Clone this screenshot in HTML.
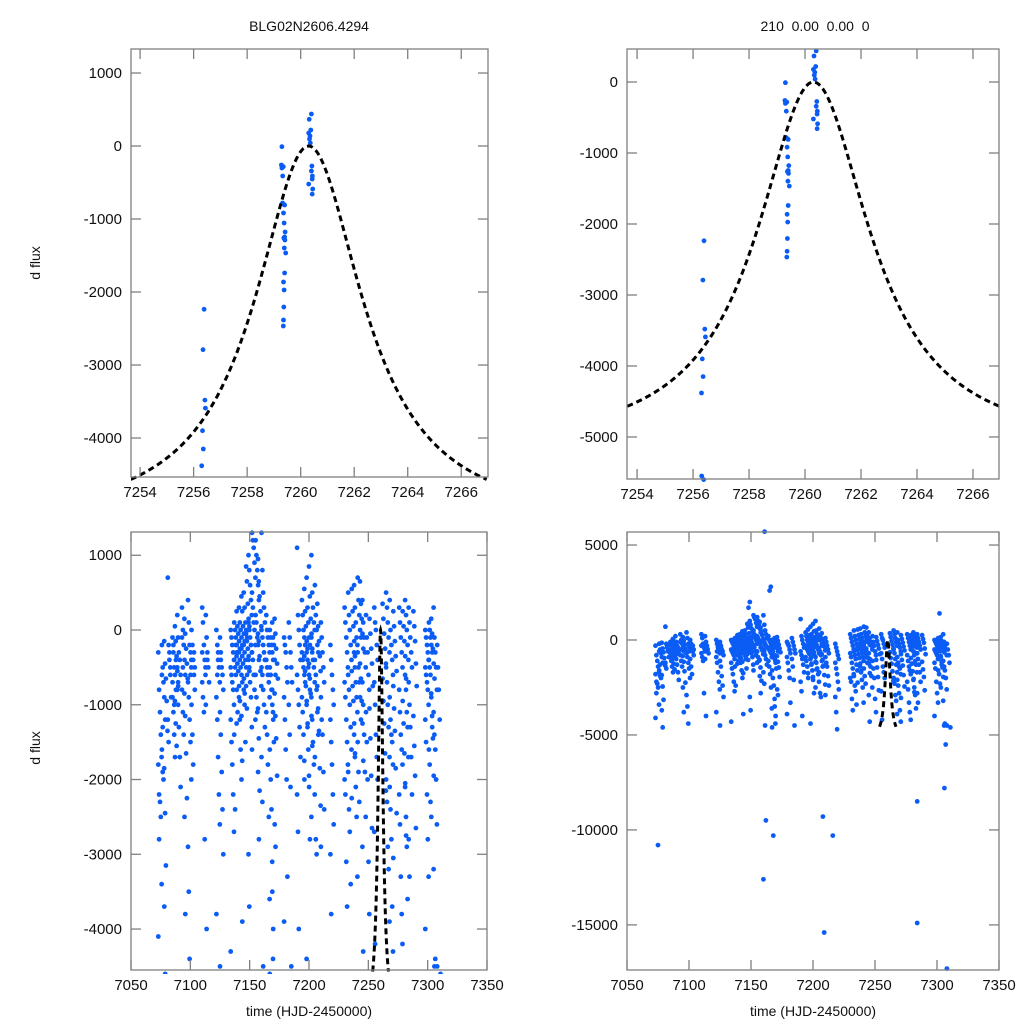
<!DOCTYPE html>
<html><head><meta charset="utf-8"><style>
html,body{margin:0;padding:0;background:#fff;width:1024px;height:1024px;overflow:hidden;}
svg{display:block;font-family:"Liberation Sans",sans-serif;}
</style></head><body>
<svg id="chart" width="1024" height="1024" viewBox="0 0 1024 1024" xmlns="http://www.w3.org/2000/svg">
<text x="309" y="31" font-size="14" text-anchor="middle" fill="#111">BLG02N2606.4294</text>
<text x="815" y="31" font-size="14" text-anchor="middle" fill="#111" xml:space="preserve">210  0.00  0.00  0</text>
<text transform="translate(40,263) rotate(-90)" font-size="14" text-anchor="middle" fill="#111">d flux</text>
<text transform="translate(40,748) rotate(-90)" font-size="14" text-anchor="middle" fill="#111">d flux</text>
<text x="309" y="1016" font-size="14" text-anchor="middle" fill="#111">time (HJD-2450000)</text>
<text x="813" y="1016" font-size="14" text-anchor="middle" fill="#111">time (HJD-2450000)</text>
</svg>
<script>
// ---- zoomed data (top panels) ----
const zoomTimes = [7256.39,7256.35,7256.42,7256.44,7256.33,7256.36,7256.30,7256.31,7256.38,
 7259.30,7259.28,7259.35,7259.30,7259.33,7259.32,7259.40,7259.36,7259.38,7259.42,7259.40,7259.37,7259.41,7259.39,7259.44,7259.40,7259.36,7259.38,7259.37,7259.36,7259.35,7259.37,
 7260.40,7260.32,7260.38,7260.30,7260.35,7260.33,7260.36,7260.42,7260.40,7260.44,7260.43,7260.30,7260.45,7260.43];
const zoomFlux = [-2237,-2790,-3480,-3590,-3900,-4150,-4380,-5550,-5600,
 -10,-260,-283,-301,-411,-781,-808,-918,-1055,-1178,-1247,-1260,-1288,-1397,-1466,-1740,-1863,-1973,-2205,-2384,-2466,-800,
 438,366,219,178,137,96,41,-274,-342,-411,-452,-521,-589,-658];
// ---- model parameters (fit curve) ----
const modelT0 = [7260.3];
const modelWidth = [2.45];
const modelDepth = [5188];
const modelRange = [7253.65, 7266.95];
// ---- full season (bottom panels), flux in hundreds per night ----
const nightTimes = [7073,7076,7081,7085,7089,7093,7098,7101,7110,7113,7122,7125,7134,7137,7141,7145,7149,7152,7155,7160,7164,7167,7169,7179,7183,7190,7194,7198,7202,7205,7210,7218,7230,7233,7238,7241,7245,7248,7255,7265,7268,7276,7281,7284,7298,7301,7305,7308,
 7078,7087,7095,7139,7143,7147,7157,7171,7196,7200,7207,7236,7243,7251,7262,7271,7279,7288,7303];
const nightFluxHundreds = [
[-3,-8,-11,-14,-17,-18,-22,-23,-25,-34,-41,-28],
[-2,-5,-7,-9,-12,-16,-19,-20,-37,-46,-6,-13],
[7,-2,-4,-6,-9,-12,-15,-3,-5],
[-1,-3,-5,-6,-8,-9,-11,-14,-17,-4,-7,-2,-10],
[2,-1,-3,-4,-6,-8,-10,-13,-17,-21,-5,-7],
[3,0,-2,-4,-6,-8,-11,-14,-25,-38,-1,-5],
[4,1,-2,-3,-5,-7,-9,-12,-15,-20,-29,-35,-44,-6,-4],
[0,-2,-4,-6,-8,-10,-14,-18,-3,-5],
[3,1,-2,-4,-5,-7,-9,-11,-28,-6,-3],
[2,-1,-3,-5,-7,-10,-40,-4],
[0,-2,-4,-5,-7,-9,-12,-17,-22,-26,-38,-6,-3],
[-1,-3,-5,-6,-8,-11,-14,-19,-24,-30,-45,-4],
[0,-1,-2,-3,-4,-5,-6,-7,-8,-10,-12,-15,-18,-22,-27,-43],
[1,0,-1,-2,-3,-4,-5,-6,-8,-11,-14,-24,-2,-3],
[3,1,0,-1,-2,-3,-4,-5,-6,-7,-9,-12,-16,-20,-39],
[5,3,1,0,-1,-2,-3,-4,-5,-6,-8,-10,-15],
[10,8,6,4,2,1,0,-1,-2,-3,-4,-5,-7,-9,-13,-30,-37],
[13,12,11,9,7,5,3,1,0,-2,-3,-4,-6,-8,-12,-16],
[12,10,8,6,4,2,1,-1,-2,-4,-6,-9,-11,-19,-28],
[13,8,5,3,1,0,-1,-2,-3,-4,-5,-6,-8,-10,-13,-17,-23,-45],
[2,0,-1,-2,-3,-4,-5,-6,-7,-9,-11,-14,-18,-25,-36],
[0,-1,-2,-3,-4,-5,-6,-8,-10,-12,-16,-20,-24,-35,-40,-46],
[1,-1,-2,-4,-6,-8,-11,-15,-26,-29,-31,-44],
[-1,-2,-3,-5,-7,-9,-12,-16,-20,-33,-39],
[1,-1,-3,-5,-7,-10,-14,-21,-45],
[11,2,0,-2,-4,-6,-8,-10,-13,-17,-22,-27,-40],
[4,2,0,-1,-2,-3,-4,-5,-6,-7,-9,-11,-14,-20],
[7,3,1,-1,-2,-3,-4,-5,-6,-8,-10,-13,-16,-21,-28,-44],
[10,5,3,1,0,-1,-3,-4,-5,-7,-9,-12,-15,-18,-22,-25],
[6,2,0,-2,-3,-4,-6,-8,-11,-14,-17,-28,-30],
[1,-1,-3,-5,-7,-9,-12,-14,-19,-24,-29],
[-2,-4,-6,-8,-10,-12,-15,-18,-22,-26,-30,-38,-47],
[3,1,-1,-3,-5,-7,-9,-12,-15,-18,-20,-22,-31,-37],
[5,2,0,-2,-4,-6,-8,-10,-13,-16,-19,-24,-27,-34],
[6,3,1,-1,-2,-3,-5,-7,-9,-11,-14,-17,-21,-25,-33],
[7,4,2,0,-1,-3,-5,-7,-9,-12,-15,-19,-23],
[4,1,-1,-3,-5,-7,-10,-14,-19,-25,-29,-43],
[2,-1,-3,-6,-8,-11,-15,-20,-31,-38],
[3,1,0,-2,-4,-7,-10,-14,-17,-20,-27,-42],
[5,3,1,-1,-3,-5,-7,-10,-13,-17,-20,-23,-29,-32,-39],
[4,0,-2,-4,-6,-9,-12,-14,-15,-18,-21,-24,-28,-37,-43],
[3,1,-1,-3,-5,-8,-11,-14,-16,-18,-22,-26,-33,-38,-42],
[4,2,0,-2,-4,-6,-8,-11,-13,-17,-21,-25,-29,-36],
[3,1,-1,-3,-5,-7,-10,-13,-17,-22,-28,-33],
[0,-1,-2,-3,-4,-5,-6,-7,-8,-10,-12,-15,-22,-28,-33,-40],
[1,0,-1,-2,-3,-4,-5,-6,-9,-13,-16,-18,-23,-25],
[3,-1,-3,-5,-8,-11,-14,-16,-20,-26,-32,-45,-44],
[-2,-5,-8,-12,-46,-45],
[-1.5,-4.5,-6.5,-9.5,-13.5,-18.5,-24.5,-31.5],
[0.5,-1.5,-3.5,-5.5,-7.5,-9.5,-12.5,-15.5],
[1.5,-0.5,-2.5,-4.5,-6.5,-8.5,-11.5,-16.5,-22.5],
[2.5,0.5,-0.5,-1.5,-2.5,-3.5,-4.5,-5.5,-7.5,-9.5,-12.5],
[4.5,2.5,0.5,-0.5,-1.5,-2.5,-3.5,-4.5,-6.5,-8.5,-11.5,-17.5],
[8.5,6.5,3.5,1.5,0.5,-0.5,-1.5,-2.5,-3.5,-5.5,-7.5,-10.5],
[9.5,6.5,4.5,2.5,0.5,-0.5,-1.5,-3.5,-5.5,-7.5,-10.5,-14.5,-21.5],
[1.5,-0.5,-2.5,-4.5,-6.5,-8.5,-11.5,-14.5,-19.5],
[5.5,2.5,0.5,-1.5,-2.5,-3.5,-5.5,-7.5,-9.5,-12.5,-17.5],
[8.5,4.5,1.5,-0.5,-2.5,-4.5,-6.5,-8.5,-11.5,-15.5,-19.5],
[3.5,0.5,-1.5,-3.5,-5.5,-7.5,-10.5,-13.5,-18.5,-23.5],
[5.5,2.5,0.5,-1.5,-3.5,-5.5,-7.5,-9.5,-12.5,-16.5,-22.5],
[6.5,3.5,1.5,-0.5,-2.5,-4.5,-6.5,-9.5,-12.5,-17.5],
[1.5,-0.5,-2.5,-4.5,-7.5,-10.5,-14.5,-19.5,-26.5],
[3.5,1.5,-0.5,-2.5,-4.5,-6.5,-9.5,-12.5,-16.5,-21.5],
[2.5,0.5,-1.5,-3.5,-5.5,-7.5,-10.5,-13.5,-18.5,-24.5,-30.5],
[2.5,0.5,-1.5,-3.5,-6.5,-9.5,-12.5,-16.5,-20.5,-27.5],
[2.5,0.5,-1.5,-4.5,-7.5,-11.5,-15.5,-19.5,-26.5],
[1.5,-0.5,-2.5,-4.5,-6.5,-8.5,-11.5,-14.5,-19.5]];
const outlierTimes = [7161,7075,7160,7162,7168,7209,7208,7216,7284,7308,7306,7284,7307,7165,7166,7149,7148,7302];
const outlierFlux = [5700,-10800,-12600,-9500,-10300,-15400,-9300,-10300,-14900,-17300,-7800,-8500,-5500,2600,2800,2000,1700,1400];
// ---- tick labels ----
const zoomXTicks = [7254,7256,7258,7260,7262,7264,7266];
const seasonXTicks = [7050,7100,7150,7200,7250,7300,7350];
const tlYTicks = [1000,0,-1000,-2000,-3000,-4000];
const trYTicks = [0,-1000,-2000,-3000,-4000,-5000];
const blYTicks = [1000,0,-1000,-2000,-3000,-4000];
const brYTicks = [5000,0,-5000,-10000,-15000];

const NS='http://www.w3.org/2000/svg';
const svg=document.getElementById('chart');
function mk(tag,attrs,parent){const e=document.createElementNS(NS,tag);for(const k in attrs)e.setAttribute(k,attrs[k]);(parent||svg).appendChild(e);return e;}
function modelFlux(t){const x=(t-modelT0[0])/modelWidth[0];return -modelDepth[0]*(1-1/(1+x*x));}

const seasonT=[],seasonF=[];
nightTimes.forEach((t,i)=>{nightFluxHundreds[i].forEach((v,j)=>{seasonT.push(t+(j%5)*0.7);seasonF.push(v*100);});});
outlierTimes.forEach((t,i)=>{seasonT.push(t);seasonF.push(outlierFlux[i]);});

const panels=[
 {name:'top-left',x0:131,x1:488,y0:49,y1:477,xd:[7253.66,7267],yd:[-4534,1329],xt:zoomXTicks,yt:tlYTicks,T:zoomTimes,F:zoomFlux},
 {name:'top-right',x0:627,x1:999,y0:49,y1:479,xd:[7253.64,7266.93],yd:[-5592,465],xt:zoomXTicks,yt:trYTicks,T:zoomTimes,F:zoomFlux},
 {name:'bottom-left',x0:131,x1:487,y0:532,y1:970,xd:[7050,7350],yd:[-4548,1311],xt:seasonXTicks,yt:blYTicks,T:seasonT,F:seasonF},
 {name:'bottom-right',x0:627,x1:999,y0:532,y1:970,xd:[7050,7350],yd:[-17375,5686],xt:seasonXTicks,yt:brYTicks,T:seasonT,F:seasonF}
];
panels.forEach((p,pi)=>{
 const g=mk('g',{});
 
 
 const sx=v=>p.x0+(v-p.xd[0])/(p.xd[1]-p.xd[0])*(p.x1-p.x0);
 const sy=v=>p.y1-(v-p.yd[0])/(p.yd[1]-p.yd[0])*(p.y1-p.y0);
 const cid='clip'+pi;
 const cp=mk('clipPath',{id:cid},g);
 mk('rect',{x:p.x0,y:p.y0-4,width:p.x1-p.x0,height:p.y1-p.y0+8},cp);
 const pts=mk('g',{'clip-path':'url(#'+cid+')'},g);
 
 
 p.T.forEach((t,i)=>{const c=mk('circle',{cx:sx(t).toFixed(1),cy:sy(p.F[i]).toFixed(1),r:2.4,fill:'#0a5cf5'},pts);
  
  });
 let d='';const N=200;
 for(let k=0;k<=N;k++){const t=modelRange[0]+(modelRange[1]-modelRange[0])*k/N;d+=(k?'L':'M')+sx(t).toFixed(2)+','+sy(modelFlux(t)).toFixed(2);}
 const cl=mk('g',{'clip-path':'url(#'+cid+')'},g);
 const path=mk('path',{d:d,fill:'none',stroke:'#000','stroke-width':3,'stroke-dasharray':'6,4'},cl);
 
 
 const fr=mk('rect',{x:p.x0,y:p.y0,width:p.x1-p.x0,height:p.y1-p.y0,fill:'none',stroke:'#808080','stroke-width':1.3},g);
 
 
 p.xt.forEach(v=>{const x=sx(v);
  mk('line',{x1:x,y1:p.y1,x2:x,y2:p.y1-10,stroke:'#808080','stroke-width':1.3},g);
  mk('line',{x1:x,y1:p.y0,x2:x,y2:p.y0+10,stroke:'#808080','stroke-width':1.3},g);
  const tx=mk('text',{x:x,y:p.y1+20,'font-size':15,'text-anchor':'middle',fill:'#111'},g);tx.textContent=v;
  
  });
 p.yt.forEach(v=>{const y=sy(v);
  mk('line',{x1:p.x0,y1:y,x2:p.x0+10,y2:y,stroke:'#808080','stroke-width':1.3},g);
  mk('line',{x1:p.x1,y1:y,x2:p.x1-10,y2:y,stroke:'#808080','stroke-width':1.3},g);
  const tx=mk('text',{x:p.x0-9,y:y+5,'font-size':15,'text-anchor':'end',fill:'#111'},g);tx.textContent=v;
  
  });
});
</script>
</body></html>
